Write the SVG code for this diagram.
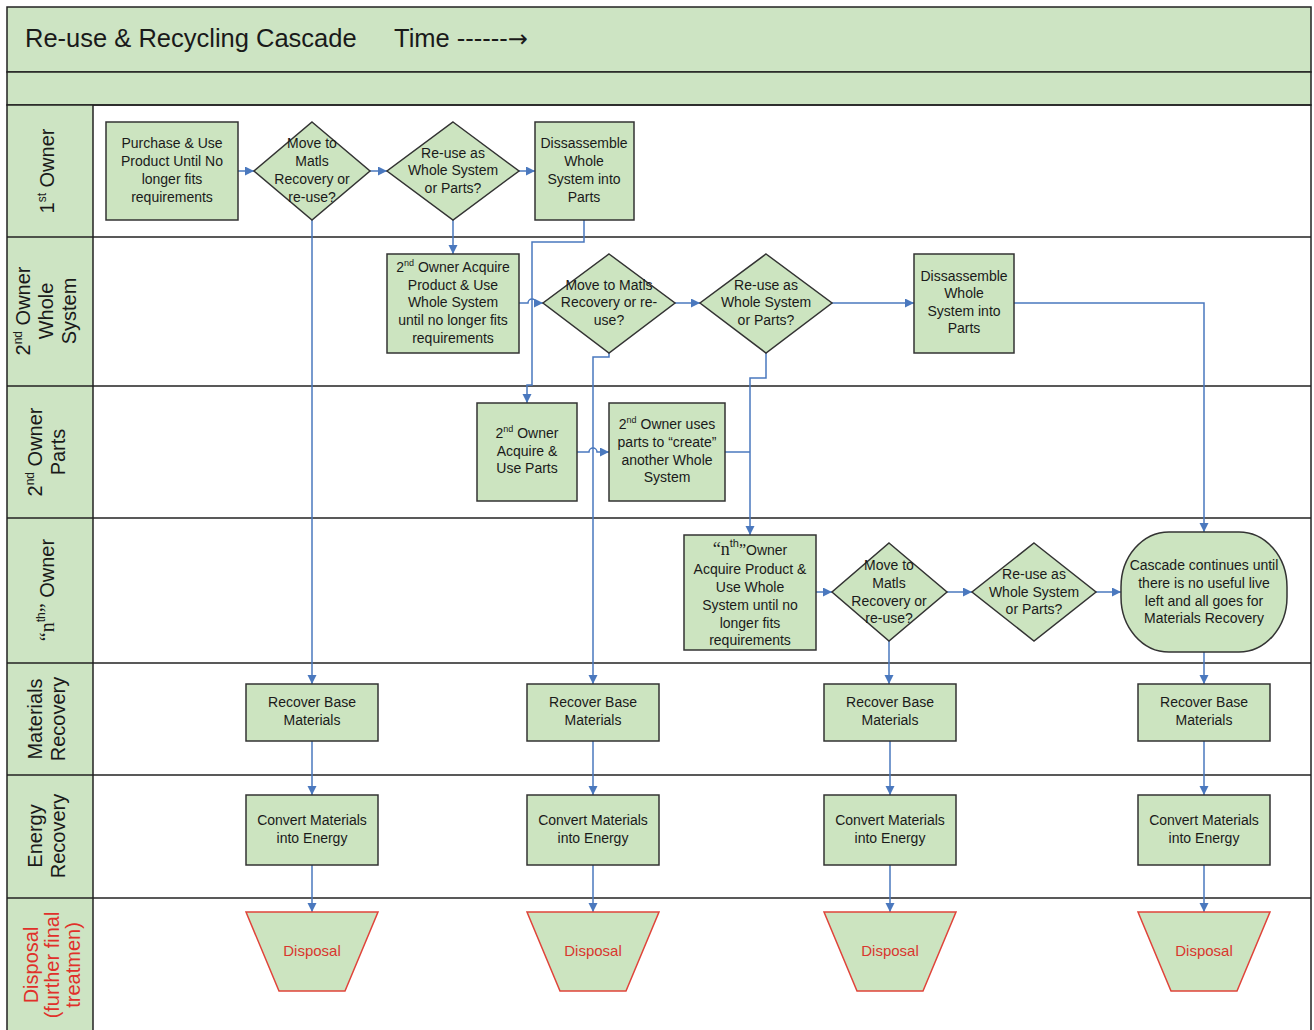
<svg xmlns="http://www.w3.org/2000/svg" width="1314" height="1030" viewBox="0 0 1314 1030">
<defs>
<marker id="ah" markerUnits="userSpaceOnUse" markerWidth="10" markerHeight="10" refX="9" refY="4.5" orient="auto">
<path d="M0,0 L9,4.5 L0,9 z" fill="#4a78be"/>
</marker>
<style>
.band{fill:#cde4c3;stroke:#222;stroke-width:1.5}
.lane{stroke:#222;stroke-width:1.5;fill:none}
.node{fill:#cce4c0;stroke:#333;stroke-width:1.5}
.disp{fill:#cce4c0;stroke:#e0443a;stroke-width:1.5}
.t{font-family:"Liberation Sans",Arial,sans-serif;font-size:14px;fill:#1a1a1a;text-anchor:middle}
.dt{font-family:"Liberation Sans",Arial,sans-serif;font-size:15px;fill:#d9362e;text-anchor:middle}
.lab{font-family:"Liberation Sans",Arial,sans-serif;font-size:20px;fill:#1a1a1a;text-anchor:middle}
.labr{font-family:"Liberation Sans",Arial,sans-serif;font-size:20px;fill:#e0302a;text-anchor:middle}
.title{font-family:"Liberation Sans",Arial,sans-serif;font-size:25.5px;fill:#1a1a1a}
.c{fill:none;stroke:#4a78be;stroke-width:1.5}
.ca{fill:none;stroke:#4a78be;stroke-width:1.5;marker-end:url(#ah)}
.serif{font-family:"Liberation Serif","Times New Roman",serif}
</style>
</defs>
<rect x="0" y="0" width="1314" height="1030" fill="#ffffff"/>

<g id="frame">
<rect class="band" x="7" y="7" width="1304" height="65"/>
<rect class="band" x="7" y="72" width="1304" height="33"/>
<rect x="7" y="105" width="86" height="930" fill="#cde4c3"/>
<rect class="lane" x="7" y="105" width="1304" height="930"/>
<line class="lane" x1="93" y1="105" x2="93" y2="1030"/>
<line class="lane" x1="7" y1="237" x2="1311" y2="237"/>
<line class="lane" x1="7" y1="386" x2="1311" y2="386"/>
<line class="lane" x1="7" y1="518" x2="1311" y2="518"/>
<line class="lane" x1="7" y1="663" x2="1311" y2="663"/>
<line class="lane" x1="7" y1="775" x2="1311" y2="775"/>
<line class="lane" x1="7" y1="898" x2="1311" y2="898"/>
<text class="title" x="25" y="47">Re-use &amp; Recycling Cascade</text>
<text class="title" x="394" y="47">Time ------<tspan font-family="'DejaVu Sans',sans-serif" font-size="24">→</tspan></text>
</g>

<g id="lane-labels">
<text class="lab" transform="translate(54,171) rotate(-90)">1<tspan font-size="12" dy="-8">st</tspan><tspan dy="8"> Owner</tspan></text>
<text class="lab" transform="translate(0,311) rotate(-90)"><tspan x="0" y="30">2<tspan font-size="12" dy="-8">nd</tspan><tspan dy="8"> Owner</tspan></tspan><tspan x="0" y="53">Whole</tspan><tspan x="0" y="76">System</tspan></text>
<text class="lab" transform="translate(0,452) rotate(-90)"><tspan x="0" y="42">2<tspan font-size="12" dy="-8">nd</tspan><tspan dy="8"> Owner</tspan></tspan><tspan x="0" y="65">Parts</tspan></text>
<text class="lab" transform="translate(54,590) rotate(-90)"><tspan class="serif">“n</tspan><tspan font-size="12" dy="-9">th</tspan><tspan class="serif" dy="9">”</tspan> Owner</text>
<text class="lab" transform="translate(0,719) rotate(-90)"><tspan x="0" y="42">Materials</tspan><tspan x="0" y="65">Recovery</tspan></text>
<text class="lab" transform="translate(0,836) rotate(-90)"><tspan x="0" y="42">Energy</tspan><tspan x="0" y="65">Recovery</tspan></text>
<text class="labr" transform="translate(0,965) rotate(-90)"><tspan x="0" y="38">Disposal</tspan><tspan x="0" y="59">(further final</tspan><tspan x="0" y="80">treatmen)</tspan></text>
</g>

<g id="connectors">
<path class="ca" d="M238,171 H254"/>
<path class="ca" d="M370,171 H387"/>
<path class="ca" d="M519,171 H535"/>
<path class="ca" d="M312,220 V684"/>
<path class="ca" d="M453,220 V254"/>
<path class="ca" d="M584,220 V242 H532 V385 H527 V403"/>
<path class="ca" d="M519,303 H528 a4,4 0 0 1 8,0 H543"/>
<path class="ca" d="M675,303 H700"/>
<path class="ca" d="M832,303 H914"/>
<path class="ca" d="M1014,303 H1204 V532"/>
<path class="ca" d="M609,353 V357 H593 V684"/>
<path class="ca" d="M766,353 V378 H750 V535"/>
<path class="ca" d="M577,452 H589 a4,4 0 0 1 8,0 H609"/>
<path class="c" d="M725,452 H750"/>
<path class="ca" d="M816,592 H832"/>
<path class="ca" d="M947,592 H972"/>
<path class="ca" d="M1096,592 H1121"/>
<path class="ca" d="M889,641 V684"/>
<path class="ca" d="M1204,652 V684"/>
<path class="ca" d="M312,741 V795"/>
<path class="ca" d="M593,741 V795"/>
<path class="ca" d="M890,741 V795"/>
<path class="ca" d="M1204,741 V795"/>
<path class="ca" d="M312,865 V912"/>
<path class="ca" d="M593,865 V912"/>
<path class="ca" d="M890,865 V912"/>
<path class="ca" d="M1204,865 V912"/>
</g>

<g id="n-purchase">
<rect class="node" x="106" y="122" width="132" height="98"/>
<text class="t"><tspan x="172" y="148">Purchase &amp; Use</tspan><tspan x="172" y="166">Product Until No</tspan><tspan x="172" y="184">longer fits</tspan><tspan x="172" y="202">requirements</tspan></text>
</g>
<g id="n-move1">
<polygon class="node" points="312,122 370,171 312,220 254,171"/>
<text class="t"><tspan x="312" y="148">Move to</tspan><tspan x="312" y="166">Matls</tspan><tspan x="312" y="184">Recovery or</tspan><tspan x="312" y="202">re-use?</tspan></text>
</g>
<g id="n-reuse1">
<polygon class="node" points="453,122 519,171 453,220 387,171"/>
<text class="t"><tspan x="453" y="158">Re-use as</tspan><tspan x="453" y="175">Whole System</tspan><tspan x="453" y="193">or Parts?</tspan></text>
</g>
<g id="n-dis1">
<rect class="node" x="535" y="122" width="99" height="98"/>
<text class="t"><tspan x="584" y="148">Dissassemble</tspan><tspan x="584" y="166">Whole</tspan><tspan x="584" y="184">System into</tspan><tspan x="584" y="202">Parts</tspan></text>
</g>

<g id="n-acq2">
<rect class="node" x="387" y="254" width="132" height="99"/>
<text class="t"><tspan x="453" y="272">2<tspan font-size="9" dy="-6">nd</tspan><tspan dy="6"> Owner Acquire</tspan></tspan><tspan x="453" y="290">Product &amp; Use</tspan><tspan x="453" y="307">Whole System</tspan><tspan x="453" y="325">until no longer fits</tspan><tspan x="453" y="343">requirements</tspan></text>
</g>
<g id="n-move2">
<polygon class="node" points="609,254 675,303 609,353 543,303"/>
<text class="t"><tspan x="609" y="290">Move to Matls</tspan><tspan x="609" y="307">Recovery or re-</tspan><tspan x="609" y="325">use?</tspan></text>
</g>
<g id="n-reuse2">
<polygon class="node" points="766,254 832,303 766,353 700,303"/>
<text class="t"><tspan x="766" y="290">Re-use as</tspan><tspan x="766" y="307">Whole System</tspan><tspan x="766" y="325">or Parts?</tspan></text>
</g>
<g id="n-dis2">
<rect class="node" x="914" y="254" width="100" height="99"/>
<text class="t"><tspan x="964" y="281">Dissassemble</tspan><tspan x="964" y="298">Whole</tspan><tspan x="964" y="316">System into</tspan><tspan x="964" y="333">Parts</tspan></text>
</g>

<g id="n-parts">
<rect class="node" x="477" y="403" width="100" height="98"/>
<text class="t"><tspan x="527" y="438">2<tspan font-size="9" dy="-6">nd</tspan><tspan dy="6"> Owner</tspan></tspan><tspan x="527" y="456">Acquire &amp;</tspan><tspan x="527" y="473">Use Parts</tspan></text>
</g>
<g id="n-create">
<rect class="node" x="609" y="403" width="116" height="98"/>
<text class="t"><tspan x="667" y="429">2<tspan font-size="9" dy="-6">nd</tspan><tspan dy="6"> Owner uses</tspan></tspan><tspan x="667" y="447">parts to “create”</tspan><tspan x="667" y="465">another Whole</tspan><tspan x="667" y="482">System</tspan></text>
</g>

<g id="n-nth">
<rect class="node" x="684" y="535" width="132" height="115"/>
<text class="t"><tspan x="750" y="555"><tspan class="serif" font-size="18">“n</tspan><tspan font-size="11" dy="-8">th</tspan><tspan class="serif" font-size="16" dy="8">”</tspan>Owner</tspan><tspan x="750" y="574">Acquire Product &amp;</tspan><tspan x="750" y="592">Use Whole</tspan><tspan x="750" y="610">System until no</tspan><tspan x="750" y="628">longer fits</tspan><tspan x="750" y="645">requirements</tspan></text>
</g>
<g id="n-move3">
<polygon class="node" points="889,543 947,592 889,641 832,592"/>
<text class="t"><tspan x="889" y="570">Move to</tspan><tspan x="889" y="588">Matls</tspan><tspan x="889" y="606">Recovery or</tspan><tspan x="889" y="623">re-use?</tspan></text>
</g>
<g id="n-reuse3">
<polygon class="node" points="1034,543 1096,592 1034,641 972,592"/>
<text class="t"><tspan x="1034" y="579">Re-use as</tspan><tspan x="1034" y="597">Whole System</tspan><tspan x="1034" y="614">or Parts?</tspan></text>
</g>
<g id="n-cascade">
<rect class="node" x="1121" y="532" width="166" height="120" rx="48" ry="55"/>
<text class="t"><tspan x="1204" y="570">Cascade continues until</tspan><tspan x="1204" y="588">there is no useful live</tspan><tspan x="1204" y="606">left and all goes for</tspan><tspan x="1204" y="623">Materials Recovery</tspan></text>
</g>

<g id="n-rec1">
<rect class="node" x="246" y="684" width="132" height="57"/>
<text class="t"><tspan x="312" y="707">Recover Base</tspan><tspan x="312" y="725">Materials</tspan></text>
</g>
<g id="n-rec2">
<rect class="node" x="527" y="684" width="132" height="57"/>
<text class="t"><tspan x="593" y="707">Recover Base</tspan><tspan x="593" y="725">Materials</tspan></text>
</g>
<g id="n-rec3">
<rect class="node" x="824" y="684" width="132" height="57"/>
<text class="t"><tspan x="890" y="707">Recover Base</tspan><tspan x="890" y="725">Materials</tspan></text>
</g>
<g id="n-rec4">
<rect class="node" x="1138" y="684" width="132" height="57"/>
<text class="t"><tspan x="1204" y="707">Recover Base</tspan><tspan x="1204" y="725">Materials</tspan></text>
</g>

<g id="n-en1">
<rect class="node" x="246" y="795" width="132" height="70"/>
<text class="t"><tspan x="312" y="825">Convert Materials</tspan><tspan x="312" y="843">into Energy</tspan></text>
</g>
<g id="n-en2">
<rect class="node" x="527" y="795" width="132" height="70"/>
<text class="t"><tspan x="593" y="825">Convert Materials</tspan><tspan x="593" y="843">into Energy</tspan></text>
</g>
<g id="n-en3">
<rect class="node" x="824" y="795" width="132" height="70"/>
<text class="t"><tspan x="890" y="825">Convert Materials</tspan><tspan x="890" y="843">into Energy</tspan></text>
</g>
<g id="n-en4">
<rect class="node" x="1138" y="795" width="132" height="70"/>
<text class="t"><tspan x="1204" y="825">Convert Materials</tspan><tspan x="1204" y="843">into Energy</tspan></text>
</g>

<g id="n-disp1">
<polygon class="disp" points="246,912 378,912 345,991 279,991"/>
<text class="dt" x="312" y="956">Disposal</text>
</g>
<g id="n-disp2">
<polygon class="disp" points="527,912 659,912 626,991 560,991"/>
<text class="dt" x="593" y="956">Disposal</text>
</g>
<g id="n-disp3">
<polygon class="disp" points="824,912 956,912 923,991 857,991"/>
<text class="dt" x="890" y="956">Disposal</text>
</g>
<g id="n-disp4">
<polygon class="disp" points="1138,912 1270,912 1237,991 1171,991"/>
<text class="dt" x="1204" y="956">Disposal</text>
</g>
</svg>
